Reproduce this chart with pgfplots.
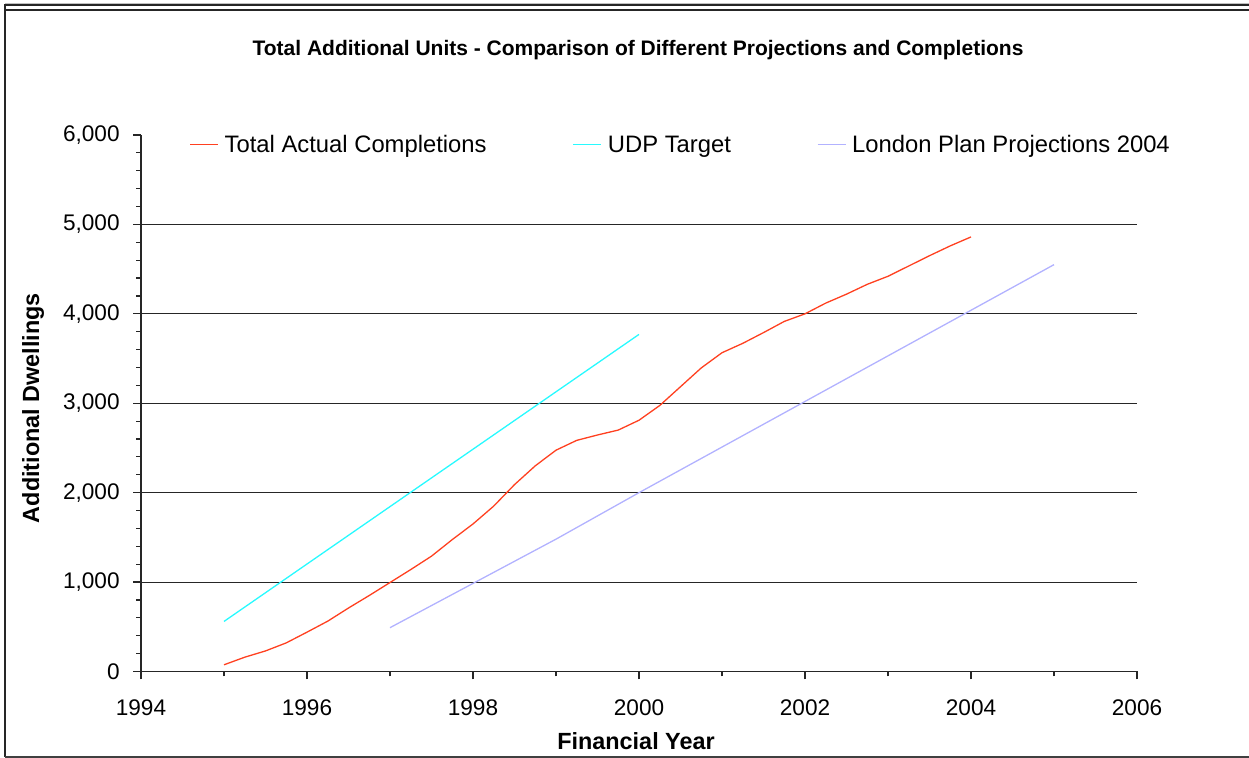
\documentclass[border=0pt]{standalone}
\usepackage{fontspec}
\setmainfont{Liberation Sans}
\usepackage{pgfplots}
\usepackage{pgfplotstable}
\pgfplotsset{compat=1.18}

\definecolor{actred}{RGB}{255,64,32}
\definecolor{udpcyan}{RGB}{40,250,255}
\definecolor{lonlav}{RGB}{178,178,255}

% cumulative completions, quarterly
\pgfplotstableread{
year units
1995.00 75
1995.25 160
1995.50 230
1995.75 320
1996.00 440
1996.25 563
1996.50 710
1996.75 850
1997.00 995
1997.25 1140
1997.50 1290
1997.75 1475
1998.00 1650
1998.25 1850
1998.50 2090
1998.75 2300
1999.00 2475
1999.25 2585
1999.50 2645
1999.75 2700
2000.00 2810
2000.25 2975
2000.50 3185
2000.75 3395
2001.00 3565
2001.25 3670
2001.50 3790
2001.75 3915
2002.00 4000
2002.25 4120
2002.50 4220
2002.75 4330
2003.00 4420
2003.25 4535
2003.50 4650
2003.75 4760
2004.00 4860
}\actualtable

\pgfplotstableread{
year units
1995 560
1996 1202
1997 1844
1998 2486
1999 3128
2000 3770
}\udptable

\pgfplotstableread{
year units
1997 490
1998 985
1999 1480
2000 2000
2001 2510
2002 3020
2003 3530
2004 4040
2005 4550
}\londontable

\begin{document}
\begin{tikzpicture}
\begin{scope}[x=0.5pt,y=-0.5pt]
\useasboundingbox (0,0) rectangle (1249,758);
% chart frame
\draw[black!25, line width=0.5pt] (5,3.6) -- (1249,3.6);
\draw[black!85, line width=1pt] (5,757) -- (5,5.5) -- (1249,5.5);
\draw[black!85, line width=0.75pt] (5,10) -- (1249,10);
\draw[black!75, line width=0.75pt] (5,756.8) -- (1249,756.8);
\node[font=\bfseries\fontsize{10.5pt}{12pt}\selectfont] at (638,50.5)
  {Total Additional Units - Comparison of Different Projections and Completions};
\end{scope}

\begin{axis}[
  scale only axis,
  width=498pt, height=268.25pt,
  at={(70.5pt,-335.75pt)}, anchor=south west,
  xmin=1994, xmax=2006, ymin=0, ymax=6000,
  axis x line*=bottom, axis y line*=left,
  axis line style={black!85, line width=0.75pt, -},
  xtick={1994,1996,...,2006},
  minor xtick={1995,1997,...,2005},
  ytick={0,1000,...,6000},
  minor y tick num=4,
  tick align=outside,
  major tick length=4pt, minor tick length=2.5pt,
  every tick/.style={black!85, line width=0.6pt},
  tick label style={font=\fontsize{11.3pt}{13pt}\selectfont},
  xticklabel style={/pgf/number format/1000 sep={}, /pgf/number format/assume math mode=true, inner sep=0pt, anchor=north, yshift=-10pt},
  yticklabel style={/pgf/number format/1000 sep={,}, /pgf/number format/assume math mode=true, inner sep=0pt, anchor=east, xshift=-6.5pt},
  extra y ticks={1000,2000,3000,4000,5000},
  extra y tick labels={},
  extra y tick style={ymajorgrids=true, major tick length=0pt},
  major grid style={black!85, line width=0.5pt},
  xlabel={Financial Year},
  ylabel={Additional Dwellings},
  label style={font=\bfseries\fontsize{11.7pt}{14pt}\selectfont},
  xlabel style={at={(axis description cs:0.497,-0.1295)}, anchor=center},
  ylabel style={at={(axis description cs:-0.1084,0.491)}, anchor=center},
  legend columns=3,
  legend style={at={(axis description cs:0.0482,0.982)}, anchor=west,
    draw=none, fill=none, inner sep=0pt,
    font=\fontsize{11.9pt}{14pt}\selectfont,
    /tikz/every odd column/.append style={column sep=1pt},
    /tikz/every even column/.append style={column sep=41pt}},
  legend image code/.code={\draw[mark=none,#1] plot coordinates {(0pt,0pt) (14pt,0pt)};},
]
\addplot[color=actred, line width=0.65pt] table[x=year,y=units] {\actualtable};
\addlegendentry{\strut Total Actual Completions}
\addplot[color=udpcyan, line width=0.65pt] table[x=year,y=units] {\udptable};
\addlegendentry{\strut UDP Target}
\addplot[color=lonlav, line width=0.65pt] table[x=year,y=units] {\londontable};
\addlegendentry{\strut London Plan Projections 2004}
\end{axis}
\end{tikzpicture}
\end{document}
